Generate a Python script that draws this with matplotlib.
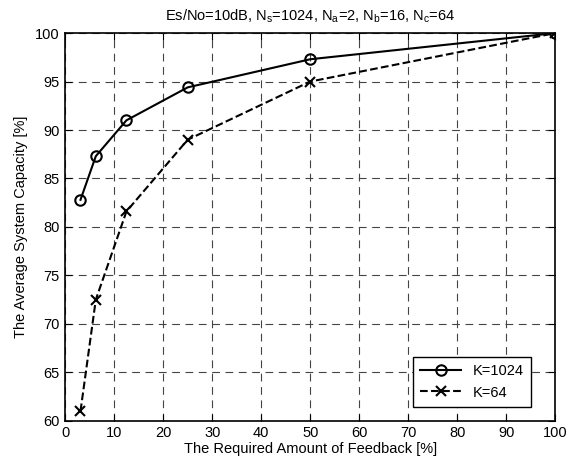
import numpy as np
import matplotlib
matplotlib.use('Agg')
import matplotlib.pyplot as plt

plt.rcParams['font.family'] = ['Liberation Sans', 'DejaVu Sans']

feedback = [3.125, 6.25, 12.5, 25, 50, 100]
cap_k1024 = [82.8, 87.3, 91.0, 94.4, 97.3, 100.0]
cap_k64 = [61.0, 72.5, 81.6, 89.0, 95.0, 100.0]

fig = plt.figure(figsize=(5.82, 4.66), dpi=100)
ax = fig.add_axes([0.112, 0.097, 0.842, 0.832])

ax.plot(feedback, cap_k1024, color='black', linestyle='-', linewidth=1.5,
        marker='o', markersize=7.5, markerfacecolor='none', markeredgewidth=1.5,
        label='K=1024')
ax.plot(feedback, cap_k64, color='black', linestyle='--', linewidth=1.5,
        marker='x', markersize=7.5, markeredgewidth=1.5, label='K=64')

ax.set_xlim(0, 100)
ax.set_ylim(60, 100)
ax.set_xticks(np.arange(0, 101, 10))
ax.set_yticks(np.arange(60, 101, 5))
ax.grid(True, color='#444444', linestyle=(0, (7, 5)), linewidth=0.8)
ax.tick_params(direction='in', top=True, right=True, labelsize=10.5, length=5, pad=4)
for s in ax.spines.values():
    s.set_linewidth(1.2)

ax.set_xlabel('The Required Amount of Feedback [%]', fontsize=10.5, labelpad=1)
ax.set_ylabel('The Average System Capacity [%]', fontsize=10.5, labelpad=5)
ax.set_title(r'Es/No=10dB, N$_{\mathregular{s}}$=1024, N$_{\mathregular{a}}$=2, '
             r'N$_{\mathregular{b}}$=16, N$_{\mathregular{c}}$=64', fontsize=10.5, pad=9)

leg = ax.legend(loc='lower right', bbox_to_anchor=(0.951, 0.036), borderaxespad=0,
                fontsize=10.5, fancybox=False, edgecolor='black', framealpha=1,
                handlelength=2.8, borderpad=0.5)
leg.get_frame().set_linewidth(1.0)

fig.savefig('out.png', dpi=100)
